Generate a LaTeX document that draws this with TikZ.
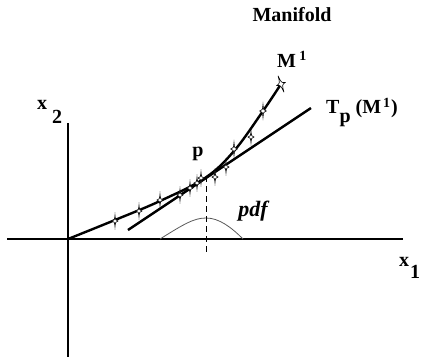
\documentclass[tikz,border=0pt]{standalone}
\usepackage{fontspec}
\setmainfont{Liberation Serif}
\begin{document}
\begin{tikzpicture}[x=1pt,y=-1pt,
  axis/.style={line width=2.6pt},
  curveline/.style={line width=2.4pt},
  lbl/.style={inner sep=0pt,font=\fontsize{20}{22}\selectfont\bfseries},
  fstar/.pic={\draw[line width=0.6pt,fill=white] (0,-6) .. controls (0.5,-0.8) .. (3,0) .. controls (0.5,0.8) .. (0,6) .. controls (-0.5,0.8) .. (-3,0) .. controls (-0.5,-0.8) .. (0,-6) -- cycle;}]
\newcommand{\smallsup}[1]{{\fontsize{14}{16}\selectfont #1}}
\useasboundingbox (0,0) rectangle (421,360);
% axes
\coordinate (o) at (68,239);
\coordinate (ytop) at (68,123);
\coordinate (ybot) at (68,357);
\coordinate (xl) at (7,239);
\coordinate (xr) at (403,239);
\draw[axis] (ytop) -- (ybot);
\draw[axis] (xl) -- (xr);
% pdf bump and dashed line
\coordinate (b0) at (160,239);
\coordinate (bp) at (206,218);
\coordinate (b1) at (243,239);
\draw[gray!70!black,line width=0.8pt] (b0) .. controls (184,224) and (194,218) .. (bp) .. controls (219,218) and (231,227) .. (b1);
\coordinate (dtop) at (206,176);
\coordinate (dbot) at (206,253);
\draw[line width=0.9pt,dash pattern=on 6pt off 4pt] (dtop) -- (dbot);
% tangent line
\coordinate (t0) at (128,230);
\coordinate (t1) at (311,108);
\draw[curveline] (t0) -- (t1);
% manifold curve
\coordinate (p) at (205,178);
\coordinate (m) at (281,84);
\draw[curveline] plot[smooth,tension=0.6] coordinates {(o) (115,220) (160,201) (p) (234,151) (263,111) (m)};
% stars
\pic at (115,221) {fstar};
\pic at (139,211) {fstar};
\pic at (160,200) {fstar};
\pic at (180,195) {fstar};
\pic at (190,188) {fstar};
\pic at (197,183) {fstar};
\pic at (201,178) {fstar};
\pic at (215,177) {fstar};
\pic at (226,167) {fstar};
\pic[scale=1.1] at (234,149) {fstar};
\pic at (251,137) {fstar};
\pic[scale=1.1] at (263,111) {fstar};
\pic[scale=1.45,rotate=20] at (281,84) {fstar};
% labels
\node[lbl] (man) at (292,15) {Manifold};
\node[lbl,anchor=base west] (mlab) at (277,67) {M\,\raisebox{7pt}{\smallsup{1}}};
\node[lbl,anchor=base west] (tlab) at (326,113) {T\kern0pt\raisebox{-9pt}{p}\kern5pt(M\kern2pt\raisebox{6pt}{\smallsup{1}}\kern1pt)};
\node[lbl] (plab) at (198,154) {p};
\node[inner sep=0pt,font=\fontsize{22}{24}\selectfont\bfseries\itshape] (pdf) at (253,211) {pdf};
\node[lbl,anchor=base west] (x2) at (37,109) {x\kern5pt\raisebox{-14pt}{2}};
\node[lbl,anchor=base west] (x1) at (399,266) {x\kern1pt\raisebox{-12pt}{1}};
\end{tikzpicture}
\end{document}
